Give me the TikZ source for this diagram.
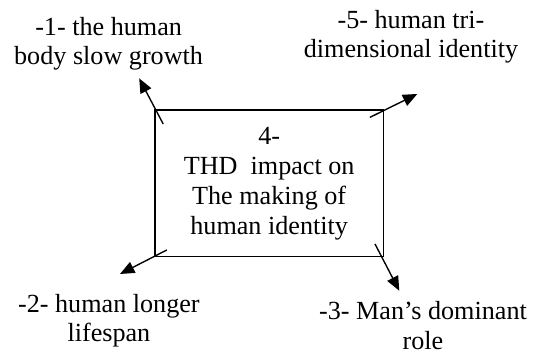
\documentclass[tikz,border=0pt]{standalone}
\usepackage{fontspec}
\setmainfont{Liberation Serif}
\usetikzlibrary{arrows.meta}

\begin{document}
\begin{tikzpicture}[
    box/.style={draw, line width=1.3pt, minimum width=7.61cm, minimum height=4.89cm, align=center, inner sep=0pt},
    lbl/.style={align=center, anchor=base, inner sep=0pt},
    arr/.style={line width=1.3pt, -{Triangle[length=0.48cm, width=0.4cm]}},
    every node/.style={font=\fontsize{24.8}{28.4}\selectfont}]
  \useasboundingbox (0,0) rectangle (18,11.833);
  \node[box] (impact) at (8.972,5.722) {4-\\THD\ \ impact on\\The making of\\human identity};
  \node[lbl] (growth) at (3.62,9.667) {-1- the human\\body slow growth};
  \node[lbl] (lifespan) at (3.63,0.433) {-2- human longer\\lifespan};
  \node[lbl] (role) at (14.1,0.17) {-3- Man’s dominant\\role};
  \node[lbl] (tridim) at (13.7,9.9) {-5- human tri-\\dimensional identity};
  \coordinate (s1) at (5.44,7.70);  \coordinate (e1) at (4.64,9.22);
  \coordinate (s2) at (5.56,3.50);  \coordinate (e2) at (4.00,2.70);
  \coordinate (s3) at (12.50,3.70); \coordinate (e3) at (13.31,2.14);
  \coordinate (s5) at (12.33,7.92); \coordinate (e5) at (13.91,8.70);
  \foreach \n in {1,2,3,5} \draw[arr] (s\n) -- (e\n);
\end{tikzpicture}
\end{document}
